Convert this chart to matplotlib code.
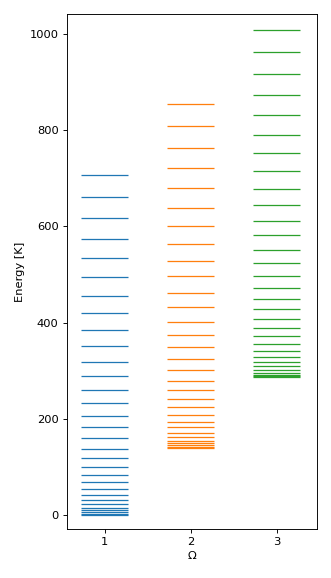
import matplotlib
matplotlib.use('Agg')
import matplotlib.pyplot as plt

omegas = [1, 2, 3]
levels_1 = [0, 2.7, 6, 10, 15, 23, 32, 42, 54, 68, 83, 100, 118, 138, 160, 182,
            206, 233, 260, 289, 319, 351, 385, 420, 456, 494, 534, 574, 617, 662, 707]
levels_2 = [140, 142, 145, 149, 154, 162, 171, 182, 194, 208, 224, 241, 260, 279,
            301, 324, 349, 375, 402, 432, 462, 496, 529, 564, 601, 639, 679, 721,
            764, 809, 854]
levels_3 = [286, 288, 290, 295, 302, 309, 318, 329, 341, 356, 372, 389, 407, 428,
            449, 472, 497, 524, 551, 582, 612, 645, 678, 715, 752, 791, 831, 873,
            917, 962, 1008]
all_levels = [levels_1, levels_2, levels_3]
colors = ['tab:blue', 'tab:orange', 'tab:green']

# reference looks like a 4x7 inch figure scaled down to 331 px wide
fig = plt.figure(figsize=(4.0, 6.985), dpi=82.75)
ax = fig.add_axes([0.2015, 0.0853, 0.7553, 0.8905])

for om, lev, c in zip(omegas, all_levels, colors):
    ax.hlines(lev, om - 0.275, om + 0.275, colors=c, linewidth=1.1)

ax.set_xlim(0.558, 3.465)
ax.set_ylim(-28.5, 1041.6)
ax.set_xticks(omegas)
ax.set_yticks([0, 200, 400, 600, 800, 1000])
ax.set_xlabel('Ω')
ax.set_ylabel('Energy [K]')

fig.savefig('out.png', dpi=82.75)
